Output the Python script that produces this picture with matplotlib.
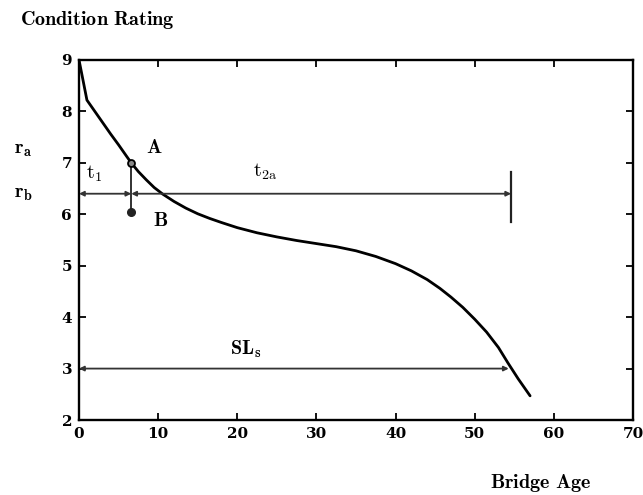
import matplotlib
matplotlib.use("Agg")
import matplotlib.pyplot as plt

plt.rcParams['mathtext.fontset'] = 'cm'

# curve
age = [0, 1, 2, 3, 4, 5, 6, 6.6, 7.5, 8.5, 9.5, 10.6, 12, 13.5, 15, 16.5, 18, 20, 22.5, 25, 27.5,
       30, 32.5, 35, 37.5, 40, 42, 44, 45.6, 47, 48.5, 50, 51.5, 53, 54.2, 55.5, 57]
rating = [9.0, 8.22, 8.0, 7.78, 7.56, 7.35, 7.13, 7.0, 6.83, 6.67, 6.52, 6.39, 6.25, 6.12, 6.01,
          5.92, 5.84, 5.74, 5.64, 5.56, 5.49, 5.43, 5.37, 5.29, 5.18, 5.04, 4.9, 4.73, 4.56,
          4.39, 4.19, 3.96, 3.71, 3.41, 3.11, 2.8, 2.47]

xticks = [0, 10, 20, 30, 40, 50, 60, 70]
yticks = [2, 3, 4, 5, 6, 7, 8, 9]

t1_x = 6.6
r_a = 7.0
r_b_point = 6.04
r_b = 6.4
end_x = 54.3
bar_x = 54.6
sl_y = 3.0

fig = plt.figure(figsize=(6.43, 4.95), dpi=100)
ax = fig.add_axes([0.1229, 0.1515, 0.8615, 0.7273])
ax.set_xlim(0, 70)
ax.set_ylim(2, 9)

ax.plot(age, rating, color='black', lw=2.0, solid_capstyle='round', solid_joinstyle='round')

# vertical A-B segment
ax.plot([t1_x, t1_x], [r_a, r_b_point], color='#222222', lw=1.3)
ax.plot([t1_x], [r_a], 'o', ms=5, mfc='#888888', mec='black', mew=1.3)
ax.plot([t1_x], [r_b_point], 'o', ms=5.5, color='#222222')

# r_b line with arrows
ap = dict(arrowstyle='<|-|>', color='#333333', lw=1.3, mutation_scale=7, shrinkA=0, shrinkB=0)
ax.annotate('', xy=(0, r_b), xytext=(t1_x, r_b), arrowprops=ap)
ax.annotate('', xy=(t1_x, r_b), xytext=(bar_x, r_b), arrowprops=ap)
ax.plot([bar_x, bar_x], [6.82, 5.85], color='#222222', lw=1.6)

# SL line
ax.annotate('', xy=(0, sl_y), xytext=(end_x, sl_y), arrowprops=ap)

fs = 14.5
def t(x, y, s, **kw):
    ax.text(x, y, s, fontsize=fs, clip_on=False, **kw)

t(9.5, 7.3, r'$\mathbf{A}$', ha='center', va='center')
t(10.3, 5.88, r'$\mathbf{B}$', ha='center', va='center')
t(2.0, 6.78, r'$\mathrm{t_1}$', ha='center', va='center')
t(23.5, 6.82, r'$\mathrm{t_{2a}}$', ha='center', va='center')
t(21.0, 3.38, r'$\mathbf{SL_s}$', ha='center', va='center')
t(-7.0, 7.25, r'$\mathbf{r_a}$', ha='center', va='center')
t(-7.0, 6.4, r'$\mathbf{r_b}$', ha='center', va='center')

tick_font = dict(family='DejaVu Serif', weight='bold', size=11)
ax.set_xticks(xticks)
ax.set_xticklabels([str(v) for v in xticks], fontdict=tick_font)
ax.set_yticks(yticks)
ax.set_yticklabels([str(v) for v in yticks], fontdict=tick_font)
ax.tick_params(direction='in', length=5, width=1.3, top=True, right=True, pad=5)
for s in ax.spines.values():
    s.set_linewidth(1.7)

fig.text(20 / 643, 1 - 20 / 495, r'$\mathbf{Condition\ Rating}$', fontsize=fs, ha='left', va='center')
fig.text(490 / 643, 1 - 483 / 495, r'$\mathbf{Bridge\ Age}$', fontsize=fs, ha='left', va='center')

fig.savefig('out.png', dpi=100, facecolor='white')
